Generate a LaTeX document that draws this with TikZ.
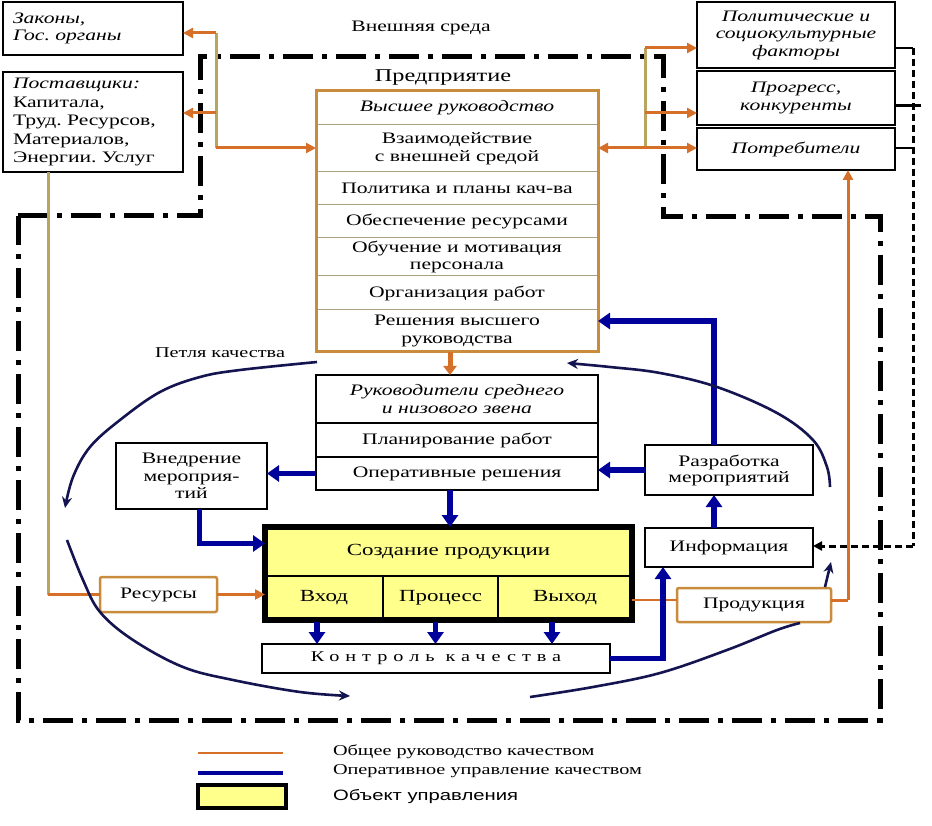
\documentclass[tikz,border=0pt]{standalone}
\usepackage{fontspec}
\setmainfont{Liberation Serif}[FakeStretch=1.35]
\newfontfamily\legsans{Liberation Sans}[FakeStretch=1.35]
\usetikzlibrary{arrows.meta,calc}
\newcommand\fsz[2]{\fontsize{#1}{#2}\selectfont}
\definecolor{oran}{RGB}{214,112,40}
\definecolor{tanl}{RGB}{185,165,95}
\definecolor{bbrown}{RGB}{200,140,60}
\definecolor{navyb}{RGB}{0,0,155}
\definecolor{yel}{RGB}{255,255,140}
\definecolor{rowl}{RGB}{170,160,130}
\definecolor{loopc}{RGB}{20,20,80}
\begin{document}
\begin{tikzpicture}[x=1pt,y=-1pt,
 txt/.style={font=\fsz{16}{17.5}, align=center, inner sep=0pt, outer sep=0pt},
 ital/.style={font=\fsz{16}{17.5}\itshape},
 bx/.style={txt, draw=black, line width=2.8pt, fill=white},
 trow/.style={txt, draw=rowl, line width=1pt, fill=white, minimum width=282pt},
 mrow/.style={txt, draw=black, line width=1.2pt, fill=white, minimum width=282pt},
 ycell/.style={txt, draw=black, line width=1.8pt, fill=yel, font=\fsz{17}{19}},
 obox/.style={txt, draw=bbrown, line width=2.5pt, rounded corners=2pt, fill=white},
 oarr/.style={draw=oran, line width=3pt, -{Triangle[length=10pt,width=10pt]}},
 oln/.style={draw=oran, line width=3pt},
 tanv/.style={draw=tanl, line width=3pt},
 barr/.style={draw=navyb, line width=5.5pt, -{Triangle[length=12pt,width=16pt]}},
 loopl/.style={draw=loopc, line width=2.6pt},
 loopa/.style={loopl, -{Stealth[length=11pt,width=10pt]}},
 ddot/.style={draw=black, line width=5pt, dash pattern=on 30pt off 9pt on 5pt off 9pt},
 dshort/.style={draw=black, line width=3pt, dash pattern=on 7pt off 4pt}
]
\useasboundingbox (0,0) rectangle (932,826);
\fill[white] (0,0) rectangle (932,826);

% enterprise boundary
\draw[ddot] (18,216) -- (200,216) -- (200,57) -- (663,57) -- (663,217) -- (880,217) -- (880,720) -- (18,720) -- cycle;

% external boxes
\node[bx, ital, minimum width=180pt, minimum height=53pt, text width=160pt, align=left] (zak) at (93,28.5) {Законы,\\Гос.~органы};
\node[bx, minimum width=180pt, minimum height=100pt, text width=160pt, align=left, font=\fsz{16}{18.5}] (post) at (93,122) {\textit{Поставщики:}\\Капитала,\\Труд.~Ресурсов,\\Материалов,\\Энергии.~Услуг};
\node[bx, ital, minimum width=198pt, minimum height=66pt] (pol) at (796,35) {Политические и\\социокультурные\\факторы};
\node[bx, ital, minimum width=198pt, minimum height=54pt] (prog) at (796,98) {Прогресс,\\конкуренты};
\node[bx, ital, minimum width=198pt, minimum height=42pt] (potr) at (796,149) {Потребители};

% top management box
\node[trow, ital, minimum height=34pt] (r1) at (457,108) {Высшее руководство};
\node[trow, minimum height=47pt] (r2) at (457,148.5) {Взаимодействие\\с внешней средой};
\node[trow, minimum height=33pt] (r3) at (457,188.5) {Политика и планы кач-ва};
\node[trow, minimum height=33pt] (r4) at (457,221.5) {Обеспечение ресурсами};
\node[trow, minimum height=38pt] (r5) at (457,257) {Обучение и мотивация\\персонала};
\node[trow, minimum height=34pt] (r6) at (457,293) {Организация работ};
\node[trow, minimum height=42pt] (r7) at (457,331) {Решения высшего\\руководства};
\draw[draw=bbrown, line width=3pt] (r1.north west) rectangle (r7.south east);

% middle management box
\node[mrow, ital, minimum height=48pt] (m1) at (457,399) {Руководители среднего\\и низового звена};
\node[mrow, minimum height=34pt] (m2) at (457,440) {Планирование работ};
\node[mrow, minimum height=33pt] (m3) at (457,473.5) {Оперативные решения};
\draw[draw=black, line width=2.8pt] (m1.north west) rectangle (m3.south east);

% production box
\node[ycell, minimum width=367pt, minimum height=49pt] (c0) at (448.5,551.5) {Создание продукции};
\node[ycell, minimum width=118pt, minimum height=44pt] (c1) at (324,598) {Вход};
\node[ycell, minimum width=115pt, minimum height=44pt] (c2) at (440.5,598) {Процесс};
\node[ycell, minimum width=134pt, minimum height=44pt] (c3) at (565,598) {Выход};
\draw[draw=black, line width=5.5pt] (c0.north west) rectangle (c3.south east);

\node[bx, minimum width=348pt, minimum height=29pt, font=\fsz{15}{17}\addfontfeature{LetterSpace=40}] (kk) at (436,658.5) {Контроль качества};
\node[bx, minimum width=151pt, minimum height=66pt] (vned) at (191.5,476) {Внедрение\\мероприя-\\тий};
\node[bx, minimum width=168pt, minimum height=50pt, font=\fsz{16}{16}] (razr) at (729,470) {Разработка\\мероприятий};
\node[bx, minimum width=168pt, minimum height=39pt] (info) at (729,547.5) {Информация};
\node[obox, minimum width=117pt, minimum height=35pt] (res) at (158.5,594.5) {Ресурсы};
\node[obox, minimum width=154pt, minimum height=34pt] (prod) at (754,605) {Продукция};

% orange / tan connectors
\coordinate (jl1) at (216,33);
\coordinate (jl2) at (216,113);
\coordinate (jl3) at (216,148);
\draw[tanv] (jl1) -- (jl3);
\draw[oarr] (jl1) -- (zak.east |- jl1);
\draw[oarr] (jl2) -- (post.east |- jl2);
\draw[oarr] (jl3) -- (r2.west |- jl3);

\coordinate (jr1) at (645,48);
\coordinate (jr2) at (645,113);
\coordinate (jr3) at (645,148);
\draw[tanv] (jr1) -- (jr3);
\draw[oarr] (jr1) -- (pol.west |- jr1);
\draw[oarr] (jr2) -- (prog.west |- jr2);
\draw[oarr] (jr3) -- (potr.west |- jr3);
\draw[oarr] (jr3) -- (r2.east |- jr3);

\coordinate (od) at ($(r7.south)+(-7,0)$);
\draw[draw=oran, line width=5pt, -{Triangle[length=9pt,width=13pt]}] (od) -- (od |- m1.north);

\coordinate (pl) at (48,594.5);
\draw[tanv] (post.south -| pl) -- (pl);
\draw[oln] (pl) -- (res.west);
\draw[oarr] (res.east) -- (c1.west |- res.east);

\coordinate (pv) at ($(prod.west)+(0,-5)$);
\draw[draw=oran, line width=2pt] (c3.east |- pv) -- (pv);
\coordinate (pr) at (848,600);
\draw[oln] (prod.east |- pr) -- (pr);
\draw[oarr] (pr) -- (pr |- potr.south);

% dashed feedback from environment
\coordinate (d1) at (913,48);
\coordinate (d2) at (913,106);
\coordinate (d3) at (913,148);
\coordinate (d4) at (913,546);
\coordinate (d2e) at (921,106);
\draw[black, line width=1.2pt] (pol.east |- d1) -- (d1);
\draw[black, line width=3pt] (prog.east |- d2) -- (d2e);
\draw[black, line width=1.2pt] (potr.east |- d3) -- (d3);
\draw[dshort] (d1) -- (d4);
\draw[dshort, -{Triangle[length=9pt,width=9pt]}] (d4) -- (info.east |- d4);

% blue connectors
\draw[barr] (m3.west) -- (vned.east |- m3.west);
\coordinate (vb) at ($(vned.south)+(8,0)$);
\coordinate (cl) at ($(c0.west)+(0,-8)$);
\draw[barr] (vb) |- (cl);
\coordinate (bd) at ($(m3.south)+(-7,0)$);
\draw[barr] (bd) -- (bd |- c0.north);
\coordinate (k1) at ($(c1.south)+(-7,2)$);
\coordinate (k2) at ($(c2.south)+(-5,2)$);
\coordinate (k3) at ($(c3.south)+(-13,2)$);
\draw[barr] (k1) -- (k1 |- kk.north);
\draw[barr] (k2) -- (k2 |- kk.north);
\draw[barr] (k3) -- (k3 |- kk.north);
\coordinate (ib) at ($(info.south)+(-66,0)$);
\draw[barr] (kk.east) -| (ib);
\coordinate (it) at ($(info.north)+(-15,0)$);
\draw[barr] (it) -- (it |- razr.south);
\draw[barr] (razr.west) -- (razr.west -| m3.east);
\coordinate (rt) at ($(razr.north)+(-15,0)$);
\coordinate (r7e) at ($(r7.east)+(0,-10)$);
\draw[barr] (rt) |- (r7e);

% quality loop
\draw[loopa] plot[smooth, tension=0.6] coordinates {(317,362) (240,370) (200,377) (160,392) (120,420) (90,447) (73,477) (65,508)};
\draw[loopa] plot[smooth, tension=0.6] coordinates {(67,540) (83,580) (100,612) (133,640) (183,667) (233,680) (300,692) (350,696)};
\draw[loopl] plot[smooth, tension=0.6] coordinates {(530,697) (593,687) (660,673) (727,650) (777,630) (800,623)};
\draw[loopa] plot[smooth, tension=0.6] coordinates {(830,487) (827,467) (813,440) (777,413) (717,387) (660,373) (610,367) (567,363)};
\coordinate (pa) at (825,587);
\coordinate (pb) at (831,562);
\draw[loopa] (pa) -- (pb);

% labels
\node[txt, font=\fsz{16}{18}] (env) at (421,28) {Внешняя среда};
\node[txt, font=\fsz{18}{20}] (ent) at (443,78) {Предприятие};
\node[txt, font=\fsz{15}{17}] (loopname) at (220,353) {Петля качества};

% legend
\coordinate (lg1a) at (198,753);
\coordinate (lg1b) at (283,753);
\coordinate (lg2a) at (198,773);
\coordinate (lg2b) at (283,773);
\draw[oran, line width=2.5pt] (lg1a) -- (lg1b);
\draw[navyb, line width=4pt] (lg2a) -- (lg2b);
\node[draw=black, line width=3.5pt, fill=yel, minimum width=88pt, minimum height=23pt, inner sep=0pt, outer sep=0pt] (lgbox) at (242,796.5) {};
\node[txt, anchor=west, font=\fsz{15}{17}] (lt1) at (333,752) {Общее руководство качеством};
\node[txt, anchor=west, font=\fsz{15}{17}] (lt2) at (333,771) {Оперативное управление качеством};
\node[txt, anchor=west, font=\legsans\fsz{15}{17}] (lt3) at (333,797) {Объект управления};
\end{tikzpicture}
\end{document}
